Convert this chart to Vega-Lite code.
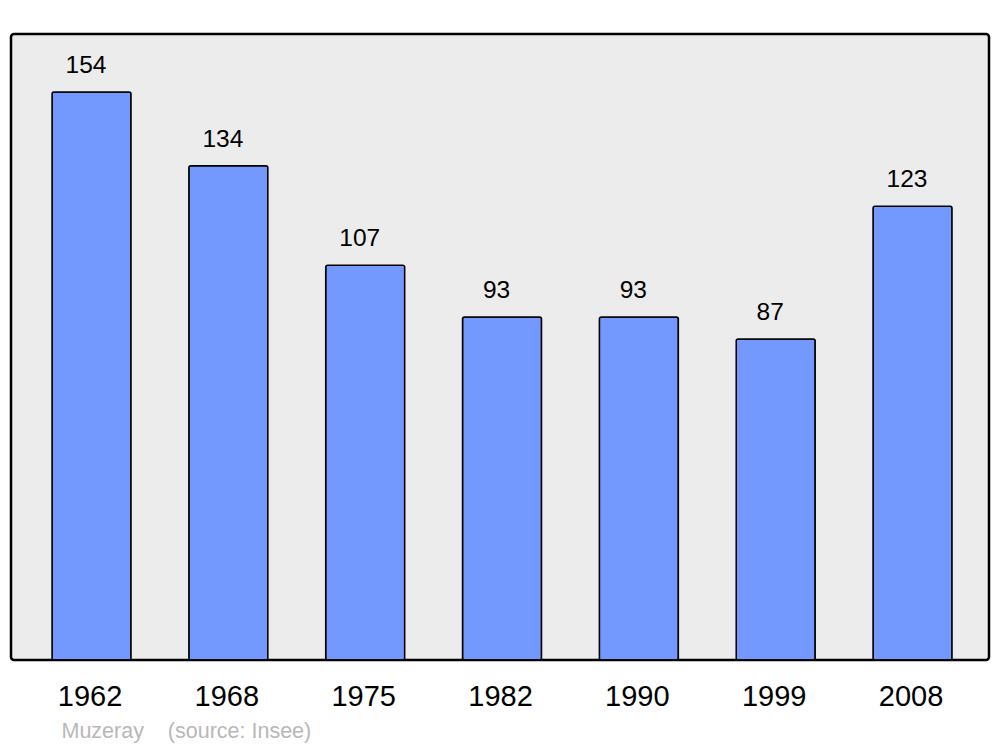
{
  "$schema": "https://vega.github.io/schema/vega-lite/v6.json",
  "width": 978,
  "height": 626,
  "autosize": {"type": "none"},
  "padding": {"left": 11, "top": 34, "right": 11, "bottom": 87},
  "background": "white",
  "config": {
    "view": {"fill": "#ececec", "stroke": "black", "strokeWidth": 2.5, "cornerRadius": 3},
    "font": "Liberation Sans"
  },
  "data": {
    "values": [
      {"year": "1962", "pop": 154},
      {"year": "1968", "pop": 134},
      {"year": "1975", "pop": 107},
      {"year": "1982", "pop": 93},
      {"year": "1990", "pop": 93},
      {"year": "1999", "pop": 87},
      {"year": "2008", "pop": 123}
    ]
  },
  "encoding": {
    "x": {
      "field": "year",
      "type": "ordinal",
      "sort": null,
      "scale": {"paddingInner": 0.4227, "paddingOuter": 0.285, "align": 0.526},
      "axis": {
        "domain": false,
        "ticks": false,
        "tickSize": 0,
        "labelAngle": 0,
        "labelFontSize": 29,
        "labelOffset": -1.5,
        "labelColor": "black",
        "labelBaseline": "alphabetic",
        "labelPadding": 45,
        "title": "Muzeray\u00a0\u00a0\u00a0\u00a0(source: Insee)",
        "titleFontSize": 21.5,
        "titleFontWeight": "normal",
        "titleColor": "#b8b8b8",
        "titleAnchor": "start",
        "titleAlign": "left",
        "titleBaseline": "alphabetic",
        "titleX": 50,
        "titleY": 77
      }
    },
    "y": {
      "field": "pop",
      "type": "quantitative",
      "scale": {"domain": [0, 169.7], "nice": false},
      "axis": null
    }
  },
  "layer": [
    {
      "mark": {"type": "bar", "fill": "#7399ff", "stroke": "black", "strokeWidth": 1.5, "cornerRadius": 2}
    },
    {
      "mark": {"type": "text", "fontSize": 24.5, "baseline": "alphabetic", "dy": -19, "dx": -5.5, "color": "black"},
      "encoding": {"text": {"field": "pop", "type": "quantitative"}}
    }
  ]
}
